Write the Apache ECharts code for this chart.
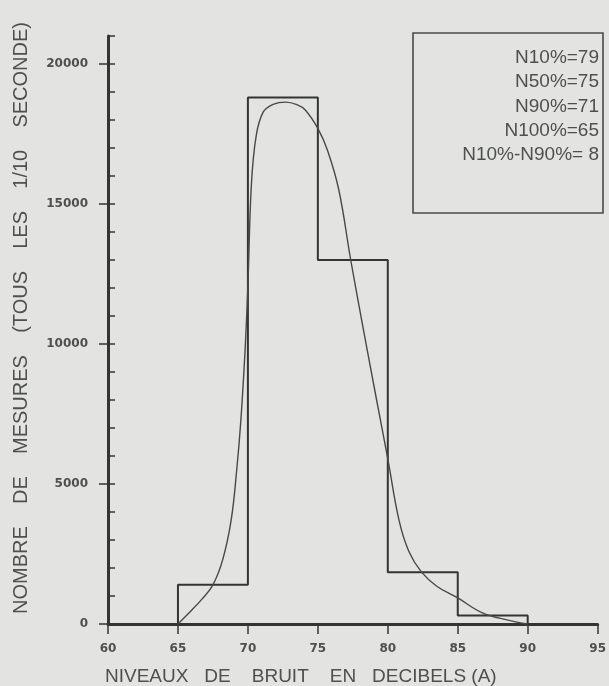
<!DOCTYPE html>
<html>
<head>
<meta charset="utf-8">
<script src="https://cdn.jsdelivr.net/npm/echarts@6/dist/echarts.min.js"></script>
<style>
  html, body { margin: 0; padding: 0; background: #e3e4e1; }
  #chart { width: 609px; height: 686px; }
</style>
</head>
<body>
<div id="chart"></div>
<script>
// Histogram of noise levels: class edges (dB(A)) and number of measurements per class
const binEdges = [65, 70, 75, 80, 85, 90];
const binCounts = [1400, 18800, 13000, 1850, 300];

// Fitted smooth distribution curve
const curveLevels = [65, 65.8, 66.7, 67.5, 68.2, 68.8, 69.2, 69.5, 69.8, 70, 70.25, 70.6, 71.1, 71.8, 72.7, 73.5, 74.1, 75, 75.7, 76.5, 77.35, 78.3, 79.2, 80, 80.8, 81.5, 82.4, 83.5, 85, 86.8, 88.6, 90];
const curveCounts = [0, 400, 880, 1400, 2300, 3700, 5500, 7300, 9800, 12100, 15700, 17460, 18290, 18560, 18640, 18550, 18360, 17700, 16900, 15500, 13000, 10400, 8000, 5900, 3710, 2600, 1860, 1350, 930, 390, 140, 0];

// Summary statistics shown in the box
const statLabels = ['N10%=79', 'N50%=75', 'N90%=71', 'N100%=65', 'N10%-N90%= 8'];

const xTitle = 'NIVEAUX   DE    BRUIT    EN   DECIBELS (A)';
const yTitle = 'NOMBRE    DE    MESURES    (TOUS    LES    1/10    SECONDE)';

// Outline of the histogram (step shape)
const outline = [[binEdges[0], 0]];
binCounts.forEach((c, i) => {
  outline.push([binEdges[i], c]);
  outline.push([binEdges[i + 1], c]);
});
outline.push([binEdges[binEdges.length - 1], 0]);

const curve = curveLevels.map((x, i) => [x, curveCounts[i]]);

const ink = '#333533';
const textInk = '#4e504e';
const tickFont = {
  fontFamily: 'DejaVu Sans', fontWeight: 'bold', fontSize: 12, color: textInk,
  formatter: v => String(v)
};

const chart = echarts.init(document.getElementById('chart'), null, { renderer: 'canvas' });

chart.setOption({
  backgroundColor: '#e3e4e1',
  animation: false,
  grid: { left: 108, right: 6, top: 36, bottom: 62, containLabel: false },
  xAxis: {
    type: 'value',
    min: 60,
    max: 95,
    interval: 5,
    axisLine: { show: true, onZero: false, lineStyle: { color: ink, width: 3 } },
    axisTick: { show: true, inside: false, length: 10, lineStyle: { color: ink, width: 1.5 } },
    axisLabel: Object.assign({ margin: 19 }, tickFont),
    splitLine: { show: false }
  },
  yAxis: [
    {
      type: 'value',
      min: 0,
      max: 21000,
      interval: 5000,
      axisLine: { show: true, onZero: false, lineStyle: { color: ink, width: 3 } },
      axisTick: { show: true, inside: false, length: 9, lineStyle: { color: ink, width: 1.5 } },
      axisLabel: Object.assign({ margin: 20, showMaxLabel: false }, tickFont),
      splitLine: { show: false }
    },
    {
      // inner ticks: majors crossing the axis plus the 1000-step minor ticks
      type: 'value',
      min: 0,
      max: 21000,
      interval: 5000,
      position: 'left',
      axisLine: { show: false },
      axisTick: { show: true, inside: true, length: 7, lineStyle: { color: ink, width: 1.5 } },
      minorTick: { show: true, splitNumber: 5, length: 7, lineStyle: { color: ink, width: 1.5 } },
      axisLabel: { show: false },
      splitLine: { show: false }
    }
  ],
  series: [
    {
      name: 'histogramme',
      type: 'line',
      data: outline,
      showSymbol: false,
      symbol: 'none',
      lineStyle: { color: ink, width: 2 },
      z: 3
    },
    {
      name: 'courbe',
      type: 'line',
      data: curve,
      smooth: 0.4,
      showSymbol: false,
      symbol: 'none',
      lineStyle: { color: '#474947', width: 1.4 },
      z: 4
    }
  ],
  graphic: [
    {
      type: 'rect',
      shape: { x: 413, y: 33, width: 190, height: 180 },
      style: { fill: 'none', stroke: '#4a4c4a', lineWidth: 1.6 },
      z: 10
    }
  ].concat(statLabels.map((t, i) => ({
    type: 'text',
    x: 599,
    y: 58 + i * 24.2,
    style: {
      text: t,
      align: 'right',
      verticalAlign: 'middle',
      font: '19px "Liberation Sans"',
      fill: textInk
    },
    z: 10
  }))).concat([
    {
      type: 'text',
      x: 105,
      y: 677,
      style: {
        text: xTitle,
        align: 'left',
        verticalAlign: 'middle',
        font: '19px "Liberation Sans"',
        fill: textInk
      }
    },
    {
      type: 'text',
      x: 21,
      y: 318,
      rotation: Math.PI / 2,
      style: {
        text: yTitle,
        align: 'center',
        verticalAlign: 'middle',
        font: '20px "Liberation Sans"',
        fill: textInk
      }
    }
  ])
});
</script>
</body>
</html>
